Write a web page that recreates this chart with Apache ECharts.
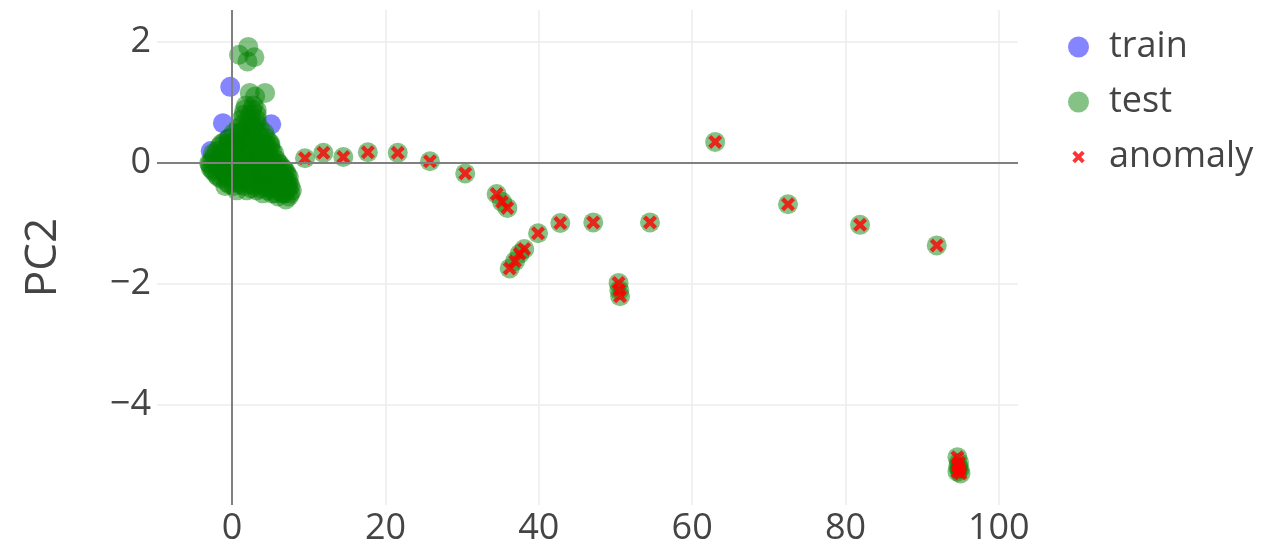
<!DOCTYPE html>
<html>
<head>
<meta charset="utf-8">
<title>PCA projection</title>
<script src="https://cdn.jsdelivr.net/npm/echarts@6/dist/echarts.min.js"></script>
<style>
  html, body { margin: 0; padding: 0; background: #ffffff; }
  #chart { width: 1275px; height: 552px; }
</style>
</head>
<body>
<div id="chart"></div>
<script>
// PC1 / PC2 coordinates of the projected samples
const trainPoints = [
  [-0.25, 1.26], [-1.2, 0.66], [5.1, 0.64], [-2.8, 0.2], [-1.5, 0.1],
  [0.5, 0.3], [1.5, 0.1], [2.5, -0.1], [3.5, 0.2], [0.0, -0.1],
  [1.0, 0.5], [2.8, 0.6], [4.0, -0.2], [-0.5, 0.4]
];

const testCorePoints = [
  [0.9, 1.79], [2.1, 1.92], [2.9, 1.75], [2.0, 1.68],
  [2.3, 1.16], [4.3, 1.16], [3.0, 1.1],
  [1.8, 0.95], [2.8, 0.95],
  [1.6, 0.88], [2.6, 0.88], [3.2, 0.88],
  [1.5, 0.8], [2.4, 0.8], [3.2, 0.8],
  [1.2, 0.72], [2.2, 0.72], [3.2, 0.72],
  [1.4, 0.65], [2.4, 0.65], [3.2, 0.65],
  [0.8, 0.58], [1.8, 0.58], [2.8, 0.58], [3.6, 0.58],
  [0.2, 0.5], [1.2, 0.5], [2.2, 0.5], [3.2, 0.5], [4.2, 0.5],
  [-0.3, 0.42], [0.8, 0.42], [1.8, 0.42], [2.8, 0.42], [3.8, 0.42], [4.4, 0.42],
  [-1.0, 0.35], [0.2, 0.35], [1.4, 0.35], [2.6, 0.35], [3.8, 0.35], [4.8, 0.35],
  [-1.6, 0.28], [-0.4, 0.28], [0.8, 0.28], [2.0, 0.28], [3.2, 0.28], [4.4, 0.28], [5.0, 0.28],
  [-2.0, 0.2], [-0.8, 0.2], [0.4, 0.2], [1.6, 0.2], [2.8, 0.2], [4.0, 0.2], [5.2, 0.2],
  [-2.3, 0.12], [-1.1, 0.12], [0.1, 0.12], [1.3, 0.12], [2.5, 0.12], [3.7, 0.12], [4.9, 0.12],
  [-2.6, 0.05], [-1.4, 0.05], [-0.2, 0.05], [1.0, 0.05], [2.2, 0.05], [3.4, 0.05], [4.6, 0.05], [5.8, 0.05],
  [-2.9, -0.02], [-2.0, -0.02], [-0.8, -0.02], [0.4, -0.02], [1.6, -0.02], [2.8, -0.02], [4.0, -0.02], [5.2, -0.02], [6.2, -0.02],
  [-2.8, -0.08], [-1.6, -0.08], [-0.4, -0.08], [0.8, -0.08], [2.0, -0.08], [3.2, -0.08], [4.4, -0.08], [5.6, -0.08], [6.6, -0.08],
  [-2.4, -0.14], [-1.2, -0.14], [0.0, -0.14], [1.2, -0.14], [2.4, -0.14], [3.6, -0.14], [4.8, -0.14], [6.0, -0.14], [7.0, -0.14],
  [-2.0, -0.2], [-0.8, -0.2], [0.4, -0.2], [1.6, -0.2], [2.8, -0.2], [4.0, -0.2], [5.2, -0.2], [6.4, -0.2], [7.2, -0.2],
  [-1.4, -0.26], [0.0, -0.26], [1.4, -0.26], [2.8, -0.26], [4.2, -0.26], [5.6, -0.26], [6.8, -0.26],
  [-0.6, -0.32], [0.8, -0.32], [2.2, -0.32], [3.6, -0.32], [5.0, -0.32], [6.2, -0.32], [7.4, -0.32],
  [-0.9, -0.38], [0.2, -0.38], [1.6, -0.38], [3.0, -0.38], [4.2, -0.38], [5.4, -0.38], [6.6, -0.38], [7.6, -0.38],
  [0.6, -0.45], [1.9, -0.45], [3.2, -0.45], [4.6, -0.45], [5.8, -0.45], [7.0, -0.45], [7.8, -0.45],
  [4.0, -0.5], [5.2, -0.5], [6.6, -0.5], [7.6, -0.5],
  [6.0, -0.55], [7.4, -0.55], [7.0, -0.6]
];

// the densest part of the test cloud, near the origin
const testDensePoints = [
  [-1.4, 0.32], [-0.6, 0.32], [0.6, 0.32], [1.8, 0.32], [3.0, 0.32], [4.2, 0.32], [5.0, 0.32],
  [-2.5, 0.16], [-1.3, 0.16], [-0.1, 0.16], [1.1, 0.16], [2.3, 0.16], [3.5, 0.16], [4.6, 0.16], [5.5, 0.16],
  [-3.0, 0.0], [-1.8, 0.0], [-0.6, 0.0], [0.6, 0.0], [1.8, 0.0], [3.0, 0.0], [4.2, 0.0], [5.4, 0.0], [6.0, 0.0],
  [-2.6, -0.11], [-1.4, -0.11], [-0.2, -0.11], [1.0, -0.11], [2.2, -0.11], [3.4, -0.11], [4.6, -0.11], [5.8, -0.11], [6.8, -0.11],
  [-1.8, -0.23], [-0.6, -0.23], [0.6, -0.23], [1.8, -0.23], [3.0, -0.23], [4.4, -0.23], [5.6, -0.23], [6.6, -0.23], [7.4, -0.23],
  [-0.4, -0.35], [1.0, -0.35], [2.4, -0.35], [3.8, -0.35], [5.0, -0.35], [6.2, -0.35], [7.2, -0.35],
  [2.5, -0.42], [3.8, -0.42], [5.0, -0.42], [6.2, -0.42], [7.3, -0.42],
  [5.6, -0.5], [6.8, -0.5]
];

const anomalyPoints = [
  [9.5, 0.08], [11.9, 0.17], [14.5, 0.1], [17.7, 0.18], [21.6, 0.17],
  [25.8, 0.03], [30.4, -0.17],
  [34.5, -0.51], [35.2, -0.64], [35.9, -0.74],
  [36.2, -1.74], [36.9, -1.62], [37.5, -1.5], [38.1, -1.42],
  [39.9, -1.16], [42.8, -0.99], [47.1, -0.98], [54.5, -0.98],
  [50.4, -1.98], [50.5, -2.1], [50.6, -2.2],
  [63.0, 0.35], [72.5, -0.68], [81.9, -1.02], [91.9, -1.36],
  [94.6, -4.86], [94.8, -4.95], [94.7, -5.02], [94.9, -5.06], [94.6, -5.1], [95.0, -5.13]
];

const xTicks = [0, 20, 40, 60, 80, 100];
const yTicks = [-4, -2, 0, 2];

// thick "x" glyph; the legend copy is padded so it sits small inside its box
const crossShape = 'M0,2.2L2.2,0L5,2.8L7.8,0L10,2.2L7.2,5L10,7.8L7.8,10L5,7.2L2.2,10L0,7.8L2.8,5Z';
const crossSymbol = 'path://' + crossShape;
const crossLegend = 'path://M-3.5,-3.5M13.5,13.5' + crossShape;

const labelFont = { fontFamily: 'Open Sans', color: '#444444' };
const minusLabel = v => String(v).replace('-', '\u2212');

const chart = echarts.init(document.getElementById('chart'), null, { renderer: 'canvas' });

chart.setOption({
  animation: false,
  backgroundColor: '#ffffff',
  grid: { left: 157, right: 257, top: 10, bottom: 47, containLabel: false },
  legend: {
    orient: 'vertical',
    left: 1063,
    top: 24,
    itemWidth: 21,
    itemHeight: 21,
    itemGap: 19,
    textStyle: Object.assign({ fontSize: 36, padding: [0, 0, 0, 15] }, labelFont),
    data: [
      { name: 'train', icon: 'circle' },
      { name: 'test', icon: 'circle' },
      { name: 'anomaly', icon: crossLegend }
    ]
  },
  xAxis: {
    type: 'value',
    min: -9.8,
    max: 102.5,
    axisLine: { show: false },
    axisTick: { show: false, customValues: xTicks },
    axisLabel: Object.assign({ fontSize: 36, margin: 6, customValues: xTicks, formatter: minusLabel }, labelFont),
    splitLine: { show: true, lineStyle: { color: '#ececec', width: 1.5 } }
  },
  yAxis: {
    type: 'value',
    min: -5.65,
    max: 2.53,
    name: 'PC2',
    nameLocation: 'middle',
    nameRotate: 90,
    nameGap: 92,
    nameTextStyle: Object.assign({ fontSize: 44 }, labelFont),
    axisLine: { show: false },
    axisTick: { show: false, customValues: yTicks },
    axisLabel: Object.assign({ fontSize: 36, margin: 6, customValues: yTicks, formatter: minusLabel }, labelFont),
    splitLine: { show: true, lineStyle: { color: '#ececec', width: 1.5 } }
  },
  series: [
    {
      name: 'train',
      type: 'scatter',
      symbol: 'circle',
      symbolSize: 20,
      itemStyle: { color: 'rgba(0,0,255,0.6)' },
      data: trainPoints,
      markLine: {
        silent: true,
        symbol: 'none',
        label: { show: false },
        lineStyle: { color: '#808080', width: 2, type: 'solid' },
        data: [{ xAxis: 0 }, { yAxis: 0 }]
      }
    },
    {
      name: 'test',
      type: 'scatter',
      symbol: 'circle',
      symbolSize: 20,
      itemStyle: { color: 'rgba(0,128,0,0.6)' },
      data: testCorePoints.concat(testDensePoints, anomalyPoints)
    },
    {
      name: 'anomaly',
      type: 'scatter',
      symbol: crossSymbol,
      symbolSize: 14,
      itemStyle: { color: '#ff0000' },
      data: anomalyPoints
    }
  ]
});
</script>
</body>
</html>
